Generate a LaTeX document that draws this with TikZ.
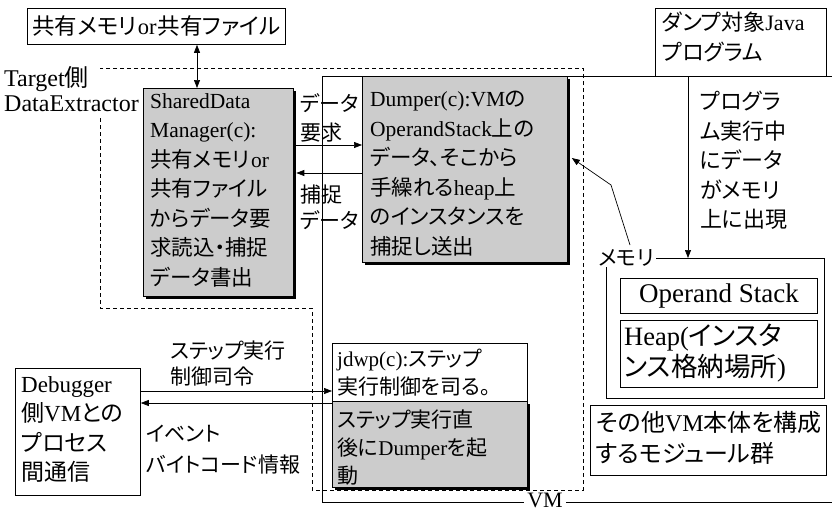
\documentclass[tikz,border=0pt]{standalone}
\usepackage{fontspec}
\setmainfont{Liberation Serif}
\newfontfamily\jpfont[RawFeature=+palt]{Noto Sans CJK JP}
\newcommand{\J}[1]{{\jpfont #1}}
\usetikzlibrary{arrows.meta,shadows,calc}
\begin{document}
\begin{tikzpicture}[x=1pt,y=-1pt,
  box/.style={draw, line width=0.8pt, inner sep=0pt, anchor=north west},
  wbox/.style={box, fill=white},
  gbox/.style={box, fill=black!20, drop shadow={shadow xshift=2.5pt,shadow yshift=-2.5pt,fill=black,opacity=1}},
  txt/.style={inner sep=0pt, align=left, anchor=north west, font=\fontsize{21.5}{29.5}\selectfont},
  lbl/.style={inner sep=0pt, anchor=west, font=\fontsize{21}{27}\selectfont},
  arr/.style={-{Triangle[length=8pt,width=6pt]}, line width=0.7pt},
  darr/.style={{Triangle[length=8pt,width=6pt]}-{Triangle[length=8pt,width=6pt]}, line width=0.7pt},
  dsh/.style={line width=0.6pt, dash pattern=on 4pt off 3pt},
]
\fill[white] (0,0) rectangle (832,514);
\useasboundingbox (0,0) rectangle (832,514);

% Target side dashed region
\draw[dsh] (100,118) -- (100,308) -- (312,308) -- (312,490) -- (583,490) -- (583,68) -- (100,68);
% VM solid region
\draw[line width=0.7pt] (832,76) -- (322,76) -- (322,502) -- (832,502);
\node[fill=white, inner xsep=3pt, inner ysep=0pt, font=\fontsize{22}{24}\selectfont] (vmlbl) at (545,500) {VM};

% shared memory box
\node[box, minimum width=258pt, minimum height=36pt] (topbox) at (27,8) {};
\node[inner sep=0pt, font=\fontsize{22.5}{26}\selectfont] (toptxt) at (topbox.center) {\J{共有メモリ}\hspace{1pt}or\hspace{1pt}\J{共有ファイル}};

% labels
\node[lbl, font=\fontsize{24}{27}\selectfont] (tside) at (4,79) {Target\J{側}};
\node[lbl, font=\fontsize{24}{27}\selectfont, fill=white, inner ysep=2pt] (dext) at (4,104) {DataExtractor};

% SharedDataManager
\node[gbox, minimum width=150pt, minimum height=208pt] (sdm) at (143,88) {};
\node[txt] (sdmtxt) at (150,93) {SharedData\\Manager(c):\\\J{共有メモリ}\hspace{1pt}or\\\J{共有ファイル}\\\J{からデータ要}\\\J{求読込・捕捉}\\\J{データ書出}};

% Dumper
\node[gbox, minimum width=205pt, minimum height=186pt] (dumper) at (362,76) {};
\node[txt] (dumptxt) at (370,91) {Dumper(c):VM\J{の}\\OperandStack\J{上の}\\\J{データ、そこから}\\\J{手繰れる}heap\J{上}\\\J{のインスタンスを}\\\J{捕捉し送出}};

% arrows between SDM and Dumper
\coordinate (yreq) at (0,145);
\coordinate (ycap) at (0,173);
\draw[arr] (sdm.east |- yreq) -- (dumper.west |- yreq);
\draw[arr] (dumper.west |- ycap) -- ($(sdm.east |- ycap)+(2.5,0)$);
\node[txt, font=\fontsize{21}{29}\selectfont] (reqlbl) at (300,93) {\J{データ}\\\J{要求}};
\node[txt, font=\fontsize{21}{26}\selectfont] (caplbl) at (300,185) {\J{捕捉}\\\J{データ}};

% double arrow
\coordinate (xs) at (197,0);
\draw[darr] (topbox.south -| xs) -- (sdm.north -| xs);

% Java program box
\node[wbox, minimum width=171pt, minimum height=68pt] (java) at (655,8) {};
\node[txt, font=\fontsize{22}{30}\selectfont] (javatxt) at (662,12) {\J{ダンプ対象}Java\\\J{プログラム}};
\coordinate (xj) at (688,0);

% memory
\node[box, minimum width=218pt, minimum height=140pt] (mem) at (606,258) {};
\node[fill=white, inner xsep=2pt, inner ysep=1pt, anchor=west, font=\fontsize{21}{24}\selectfont] (memlbl) at (596,258) {\J{メモリ}};
\draw[arr] (java.south -| xj) -- (mem.north -| xj);
\node[txt, font=\fontsize{22}{29.5}\selectfont] (runtxt) at (700,91) {\J{プログラ}\\\J{ム実行中}\\\J{にデータ}\\\J{がメモリ}\\\J{上に出現}};

\node[box, minimum width=197pt, minimum height=35pt] (ops) at (620,278) {};
\node[inner sep=0pt, font=\fontsize{27}{30}\selectfont] (opstxt) at (ops.center) {Operand Stack};
\node[box, minimum width=197pt, minimum height=67pt] (heap) at (620,320) {};
\node[txt, font=\fontsize{26.5}{31}\selectfont] (heaptxt) at (624,324) {Heap(\J{インスタ}\\\J{ンス格納場所})};

% memory -> dumper
\coordinate (mstart) at (630,245);
\coordinate (mbend) at (611,185);
\coordinate (ydump) at (0,158);
\draw[arr] (mstart) -- (mbend) -- ($(dumper.east |- ydump)+(4,0)$);

% other modules
\node[box, minimum width=236pt, minimum height=70pt] (other) at (590,405) {};
\node[txt, font=\fontsize{24}{31}\selectfont] (othertxt) at (596,411) {\J{その他}VM\J{本体を構成}\\\J{するモジュール群}};

% jdwp
\node[gbox, minimum width=195pt, minimum height=86pt] (jdwpg) at (332,401) {};
\node[wbox, minimum width=195pt, minimum height=58pt] (jdwp) at (332,343) {};
\node[txt, font=\fontsize{21}{28}\selectfont] (jdwptxt) at (337,349) {jdwp(c):\J{ステップ}\\\J{実行制御を司る。}};
\node[txt, font=\fontsize{21}{28}\selectfont] (jdwpgtxt) at (337,410) {\J{ステップ実行直}\\\J{後に}Dumper\J{を起}\\\J{動}};

% Debugger
\node[box, minimum width=125pt, minimum height=127pt] (dbg) at (15,368) {};
\node[txt, font=\fontsize{23}{29.5}\selectfont] (dbgtxt) at (21,376) {Debugger\\\J{側}VM\J{との}\\\J{プロセス}\\\J{間通信}};

\coordinate (ystep) at (0,391);
\coordinate (yevt) at (0,403);
\draw[arr] (dbg.east |- ystep) -- (jdwp.west |- ystep);
\draw[arr] (jdwp.west |- yevt) -- (dbg.east |- yevt);
\node[txt, font=\fontsize{21}{26}\selectfont] (steplbl) at (170,341) {\J{ステップ実行}\\\J{制御司令}};
\node[lbl] (evtlbl) at (146,434) {\J{イベント}};
\node[lbl] (bclbl) at (146,465) {\J{バイトコード情報}};
\end{tikzpicture}
\end{document}
